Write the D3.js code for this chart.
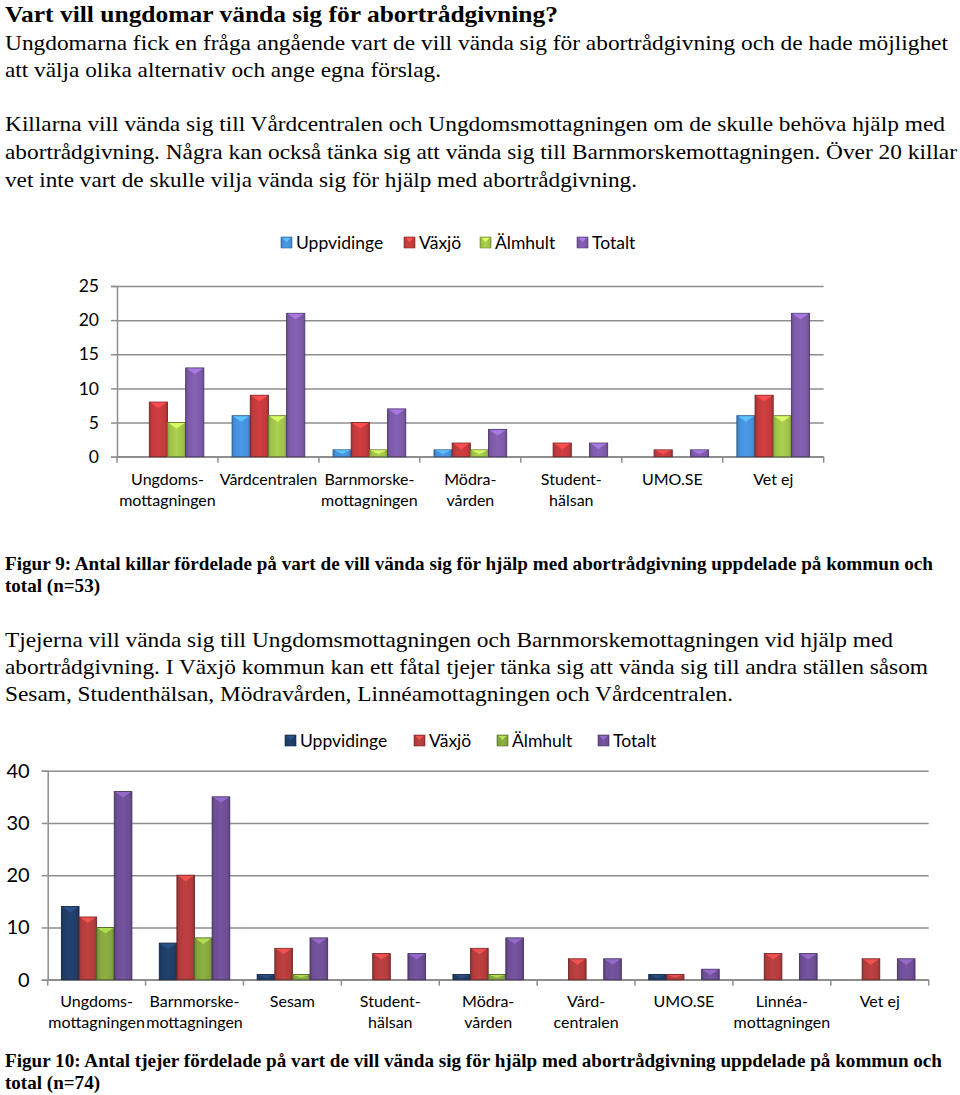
<!DOCTYPE html>
<html><head><meta charset="utf-8">
<script src="https://cdn.jsdelivr.net/npm/d3@7/dist/d3.min.js"></script>
<style>
body{margin:0;background:#fff;}
svg{display:block;}
</style></head>
<body>
<svg id="page" width="960" height="1095"></svg>
<script>
// ---------- DATA ----------
const seriesNames = ["Uppvidinge", "Växjö", "Älmhult", "Totalt"];

const boysCategories = ["Ungdoms-\nmottagningen", "Vårdcentralen", "Barnmorske-\nmottagningen", "Mödra-\nvården", "Student-\nhälsan", "UMO.SE", "Vet ej"];
const boysUppvidinge = [0, 6, 1, 1, 0, 0, 6];
const boysVaxjo      = [8, 9, 5, 2, 2, 1, 9];
const boysAlmhult    = [5, 6, 1, 1, 0, 0, 6];
const boysTotalt     = [13, 21, 7, 4, 2, 1, 21];
const boysTicks = [0, 5, 10, 15, 20, 25];

const girlsCategories = ["Ungdoms-\nmottagningen", "Barnmorske-\nmottagningen", "Sesam", "Student-\nhälsan", "Mödra-\nvården", "Vård-\ncentralen", "UMO.SE", "Linnéa-\nmottagningen", "Vet ej"];
const girlsUppvidinge = [14, 7, 1, 0, 1, 0, 1, 0, 0];
const girlsVaxjo      = [12, 20, 6, 5, 6, 4, 1, 5, 4];
const girlsAlmhult    = [10, 8, 1, 0, 1, 0, 0, 0, 0];
const girlsTotalt     = [36, 35, 8, 5, 8, 4, 2, 5, 4];
const girlsTicks = [0, 10, 20, 30, 40];

const boysColors  = ["#4590da", "#c23a3c", "#a0c24a", "#7d5aa8"];
const girlsColors = ["#1f3d66", "#b23c3c", "#84a43e", "#6e4e95"];

const titleText = "Vart vill ungdomar vända sig för abortrådgivning?";
const introLines = [
  "Ungdomarna fick en fråga angående vart de vill vända sig för abortrådgivning och de hade möjlighet",
  "att välja olika alternativ och ange egna förslag."
];
const boysLines = [
  "Killarna vill vända sig till Vårdcentralen och Ungdomsmottagningen om de skulle behöva hjälp med",
  "abortrådgivning. Några kan också tänka sig att vända sig till Barnmorskemottagningen. Över 20 killar",
  "vet inte vart de skulle vilja vända sig för hjälp med abortrådgivning."
];
const caption9 = ["Figur 9: Antal killar fördelade på vart de vill vända sig för hjälp med abortrådgivning uppdelade på kommun och", "total (n=53)"];
const girlsLines = [
  "Tjejerna vill vända sig till Ungdomsmottagningen och Barnmorskemottagningen vid hjälp med",
  "abortrådgivning. I Växjö kommun kan ett fåtal tjejer tänka sig att vända sig till andra ställen såsom",
  "Sesam, Studenthälsan, Mödravården, Linnéamottagningen och Vårdcentralen."
];
const caption10 = ["Figur 10: Antal tjejer fördelade på vart de vill vända sig för hjälp med abortrådgivning uppdelade på kommun och", "total (n=74)"];

// ---------- PAGE ----------
const svg = d3.select("#page");
const serif = "Liberation Serif, Times New Roman, Times, serif";
const sans = "Lato, Open Sans, sans-serif";

function textLine(str, x, y, size, weight, width) {
  const t = svg.append("text").attr("x", x).attr("y", y)
    .style("font-family", serif).attr("font-size", size)
    .attr("font-weight", weight).attr("fill", "#000").text(str);
  if (width) t.attr("textLength", width).attr("lengthAdjust", "spacingAndGlyphs");
  return t;
}

textLine(titleText, 5, 22, 24, "bold", 553);
textLine(introLines[0], 5, 50, 22, "normal", 943);
textLine(introLines[1], 5, 77, 22, "normal", 436);
textLine(boysLines[0], 5, 131, 22, "normal", 940);
textLine(boysLines[1], 5, 159, 22, "normal", 952);
textLine(boysLines[2], 5, 187, 22, "normal", 632);
textLine(caption9[0], 5, 570, 19, "bold", 928);
textLine(caption9[1], 5, 592, 19, "bold", 95);
textLine(girlsLines[0], 5, 647, 22, "normal", 888);
textLine(girlsLines[1], 5, 674, 22, "normal", 923);
textLine(girlsLines[2], 5, 701, 22, "normal", 728);
textLine(caption10[0], 5, 1067, 19, "bold", 937);
textLine(caption10[1], 5, 1089, 19, "bold", 95);

// ---------- DEFS ----------
const defs = svg.append("defs");
function shade(c, k) { return d3.color(c).darker(k).formatHex(); }
function tint(c, k) { return d3.color(c).brighter(k).formatHex(); }
function makeGrad(id, c) {
  const g = defs.append("linearGradient").attr("id", id).attr("x1", "0").attr("x2", "1").attr("y1", "0").attr("y2", "0");
  g.append("stop").attr("offset", "0%").attr("stop-color", shade(c, 0.5));
  g.append("stop").attr("offset", "15%").attr("stop-color", c);
  g.append("stop").attr("offset", "50%").attr("stop-color", tint(c, 0.2));
  g.append("stop").attr("offset", "85%").attr("stop-color", c);
  g.append("stop").attr("offset", "100%").attr("stop-color", shade(c, 0.5));
}
boysColors.forEach((c, i) => makeGrad("gb" + i, c));
girlsColors.forEach((c, i) => makeGrad("gg" + i, c));

// ---------- CHART ----------
function drawChart(opt) {
  const { cats, series, colors, gradPrefix, ticks, x0, x1, yZero, yTop, legendX, legendY, legendGaps, tickFont, labelY } = opt;
  const g = svg.append("g");
  const x = d3.scaleBand().domain(d3.range(cats.length)).range([x0, x1]).paddingInner(0).paddingOuter(0);
  const y = d3.scaleLinear().domain([0, d3.max(ticks)]).range([yZero, yTop]);
  const bw = x.bandwidth();
  const groupW = bw * 0.72;
  const xs = d3.scaleBand().domain(d3.range(series.length)).range([0, groupW]).padding(0);
  const w = xs.bandwidth();

  // gridlines
  g.append("g").attr("transform", `translate(${x0},0)`)
    .call(d3.axisLeft(y).tickValues(ticks).tickSize(-(x1 - x0)).tickFormat(""))
    .call(s => s.select(".domain").remove())
    .call(s => s.selectAll("line").attr("stroke", "#8e8e8e").attr("stroke-width", 1.5));
  // left axis with ticks + labels
  g.append("g").attr("transform", `translate(${x0},0)`)
    .call(d3.axisLeft(y).tickValues(ticks).tickSize(6).tickPadding(12))
    .call(s => s.select(".domain").attr("stroke", "#8e8e8e").attr("stroke-width", 1.5))
    .call(s => s.selectAll("line").attr("stroke", "#8e8e8e").attr("stroke-width", 1.5))
    .call(s => s.selectAll("text").attr("font-family", sans).attr("font-size", tickFont).attr("fill", "#000"));
  // bottom axis
  g.append("line").attr("x1", x0).attr("x2", x1).attr("y1", yZero).attr("y2", yZero)
    .attr("stroke", "#8e8e8e").attr("stroke-width", 1.5);
  g.selectAll(".ctick").data(d3.range(cats.length + 1)).join("line")
    .attr("x1", i => x0 + i * x.step()).attr("x2", i => x0 + i * x.step())
    .attr("y1", yZero).attr("y2", yZero + 6).attr("stroke", "#8e8e8e").attr("stroke-width", 1.5);

  // bars
  series.forEach((vals, si) => {
    const bars = g.append("g");
    const data = vals.map((v, ci) => ({ v, ci })).filter(d => d.v > 0);
    bars.selectAll("rect").data(data).join("rect")
      .attr("x", d => x(d.ci) + (bw - groupW) / 2 + xs(si))
      .attr("y", d => y(d.v))
      .attr("width", w)
      .attr("height", d => yZero - y(d.v))
      .attr("fill", `url(#${gradPrefix}${si})`)
      .attr("stroke", shade(colors[si], 1.3)).attr("stroke-width", 0.9);
    bars.selectAll("path").data(data).join("path")
      .attr("d", d => {
        const bx = x(d.ci) + (bw - groupW) / 2 + xs(si);
        const by = y(d.v);
        const h = Math.min(6, (yZero - by) * 0.6);
        return `M${bx + 1},${by + 0.5}L${bx + w - 1},${by + 0.5}L${bx + w / 2},${by + h}Z`;
      })
      .attr("fill", tint(colors[si], 0.9)).attr("opacity", 0.9);
  });

  // category labels
  cats.forEach((c, i) => {
    const t = g.append("text").attr("font-family", sans).attr("font-size", 16)
      .attr("text-anchor", "middle").attr("fill", "#000");
    c.split("\n").forEach((line, li) => {
      t.append("tspan").attr("x", x(i) + bw / 2).attr("y", labelY + li * 20.5).text(line);
    });
  });

  // legend
  let lx = legendX;
  seriesNames.forEach((n, i) => {
    const lg = g.append("g");
    lg.append("rect").attr("x", lx).attr("y", legendY - 6).attr("width", 11).attr("height", 11)
      .attr("fill", `url(#${gradPrefix}${i})`).attr("stroke", shade(colors[i], 1)).attr("stroke-width", 0.6);
    lg.append("path").attr("d", `M${lx + 1.5},${legendY - 5}L${lx + 9.5},${legendY - 5}L${lx + 5.5},${legendY - 1}Z`)
      .attr("fill", tint(colors[i], 0.9));
    lg.append("text").attr("x", lx + 15).attr("y", legendY).attr("dy", "0.35em")
      .attr("font-family", sans).attr("font-size", 17.5).attr("fill", "#000").text(n);
    lx += legendGaps[i];
  });
}

drawChart({
  cats: boysCategories,
  series: [boysUppvidinge, boysVaxjo, boysAlmhult, boysTotalt],
  colors: boysColors, gradPrefix: "gb", ticks: boysTicks,
  x0: 117, x1: 823.7, yZero: 456.7, yTop: 286,
  legendX: 281, legendY: 243, legendGaps: [123, 76, 97, 0], tickFont: 17.5, labelY: 485
});

drawChart({
  cats: girlsCategories,
  series: [girlsUppvidinge, girlsVaxjo, girlsAlmhult, girlsTotalt],
  colors: girlsColors, gradPrefix: "gg", ticks: girlsTicks,
  x0: 47.7, x1: 928.7, yZero: 979.7, yTop: 770.7,
  legendX: 285, legendY: 741, legendGaps: [129, 83, 101, 0], tickFont: 20, labelY: 1007
});
</script>
</body></html>
